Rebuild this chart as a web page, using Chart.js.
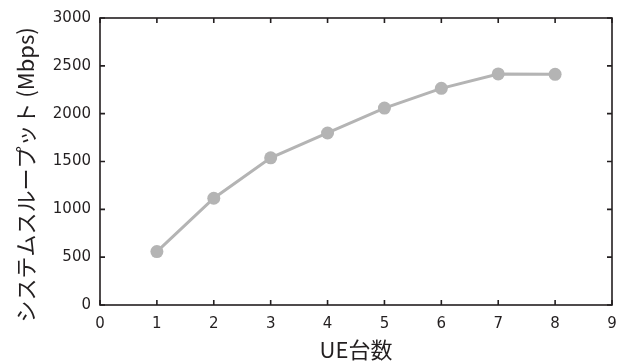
<!DOCTYPE html>
<html>
<head>
<meta charset="utf-8">
<script src="https://cdn.jsdelivr.net/npm/chart.js@4"></script>
<style>
  body { margin: 0; background: #fff; }
  #wrap { width: 632px; height: 363px; }
</style>
</head>
<body>
<div id="wrap"><canvas id="grafico"></canvas></div>
<script>
var ueCount = [1, 2, 3, 4, 5, 6, 7, 8]
var throughput = [558, 1116, 1538, 1798, 2058, 2265, 2415, 2411]
var xTicks = [0, 1, 2, 3, 4, 5, 6, 7, 8, 9]
var yTicks = [0, 500, 1000, 1500, 2000, 2500, 3000]

var corEixo = '#231f20'
var corLinha = '#b4b4b4'

// moldura e marcas para dentro (ticks internos nos 4 lados)
var moldura = {
    id: 'moldura',
    afterDraw: function (chart) {
        var ctx = chart.ctx
        var a = chart.chartArea
        var sx = chart.scales.x
        var sy = chart.scales.y
        ctx.save()
        ctx.strokeStyle = corEixo
        ctx.lineWidth = 1.6
        ctx.strokeRect(a.left, a.top, a.right - a.left, a.bottom - a.top)
        ctx.beginPath()
        xTicks.forEach(function (v) {
            var px = sx.getPixelForValue(v)
            ctx.moveTo(px, a.bottom); ctx.lineTo(px, a.bottom - 5)
            ctx.moveTo(px, a.top); ctx.lineTo(px, a.top + 5)
        })
        yTicks.forEach(function (v) {
            var py = sy.getPixelForValue(v)
            ctx.moveTo(a.left, py); ctx.lineTo(a.left + 5, py)
            ctx.moveTo(a.right, py); ctx.lineTo(a.right - 5, py)
        })
        ctx.stroke()
        ctx.restore()
    }
}

var fonteTitulo = { family: "'Noto Sans CJK JP'", size: 22 }
var fonteTicks = { family: 'DejaVu Sans', size: 15 }

var grafico = new Chart(document.getElementById('grafico').getContext('2d'), {
    type: 'line',
    data: {
        datasets: [{
            data: ueCount.map(function (x, i) { return { x: x, y: throughput[i] } }),
            borderColor: corLinha,
            backgroundColor: corLinha,
            borderWidth: 3,
            pointRadius: 6.5,
            pointHoverRadius: 6.5,
            pointBorderWidth: 0,
            tension: 0
        }]
    },
    options: {
        responsive: true,
        maintainAspectRatio: false,
        animation: false,
        layout: { padding: { top: 16, right: 20, left: 0, bottom: 0 } },
        plugins: { legend: { display: false }, tooltip: { enabled: false } },
        scales: {
            x: {
                type: 'linear',
                min: 0,
                max: 9,
                grid: { display: false, drawTicks: false },
                border: { display: false },
                afterBuildTicks: function (s) { s.ticks = xTicks.map(function (v) { return { value: v } }) },
                afterFit: function (s) { s.height = 58 },
                ticks: {
                    color: corEixo,
                    padding: 10,
                    font: fonteTicks,
                    callback: function (v) { return String(v) }
                },
                title: {
                    display: true,
                    text: 'UE台数',
                    color: corEixo,
                    padding: { top: 0, bottom: 0 },
                    font: fonteTitulo
                }
            },
            y: {
                min: 0,
                max: 3000,
                grid: { display: false, drawTicks: false },
                border: { display: false },
                afterBuildTicks: function (s) { s.ticks = yTicks.map(function (v) { return { value: v } }) },
                afterFit: function (s) { s.width = 100 },
                ticks: {
                    color: corEixo,
                    padding: 9,
                    font: fonteTicks,
                    callback: function (v) { return String(v) }
                },
                title: {
                    display: true,
                    // espaço no fim para descer o texto como no original
                    text: 'システムスループット (Mbps)\u3000 ',
                    color: corEixo,
                    padding: { top: 12, bottom: 0 },
                    font: fonteTitulo
                }
            }
        }
    },
    plugins: [moldura]
})
</script>
</body>
</html>
